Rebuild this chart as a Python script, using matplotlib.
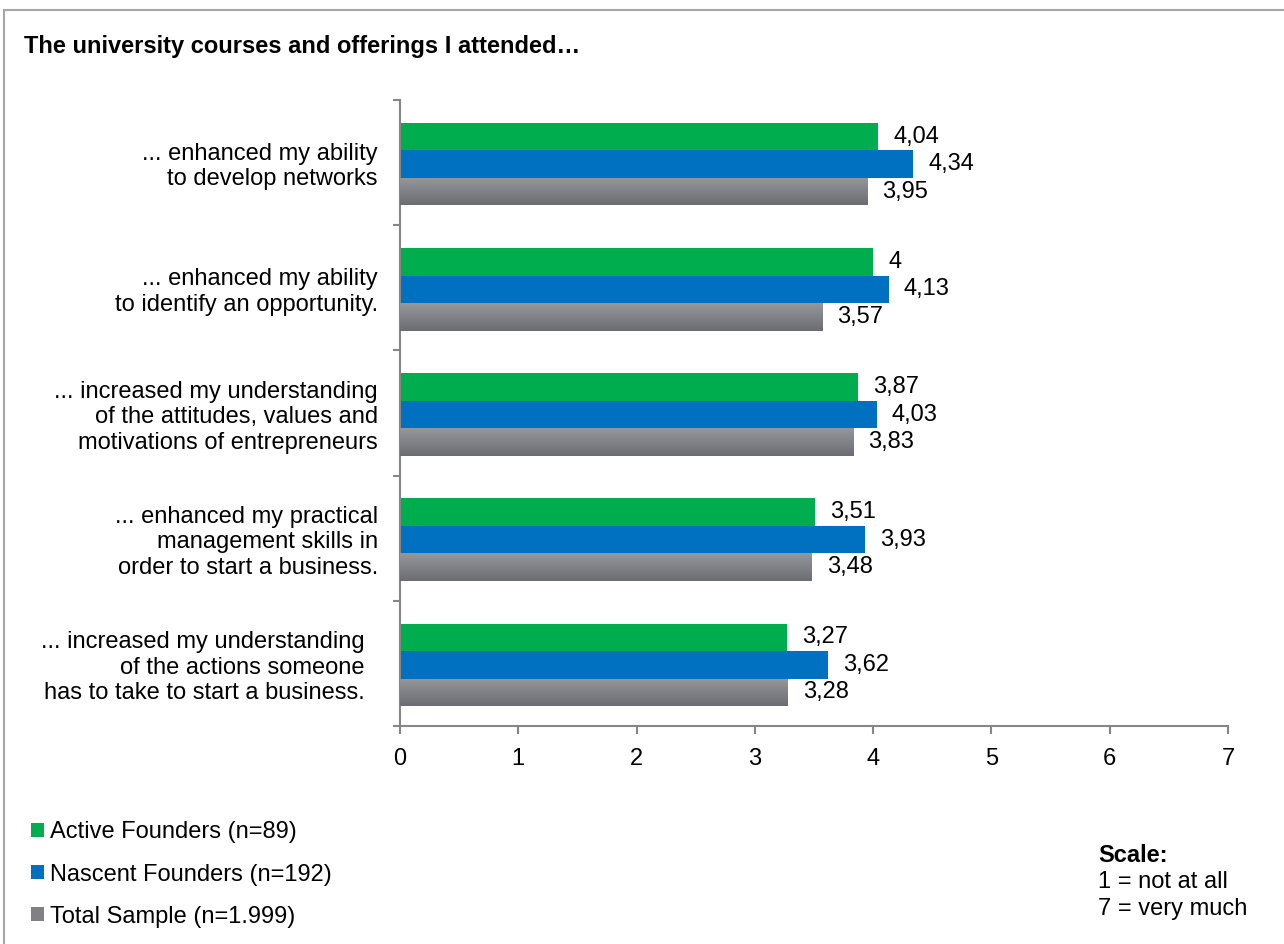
import numpy as np
import matplotlib.pyplot as plt
from matplotlib.lines import Line2D
from matplotlib.colors import LinearSegmentedColormap

plt.rcParams['font.family'] = ['Liberation Sans', 'DejaVu Sans']

# survey statements (top to bottom)
statements = [
    "... enhanced my ability\nto develop networks",
    "... enhanced my ability\nto identify an opportunity.",
    "... increased my understanding\nof the attitudes, values and\nmotivations of entrepreneurs",
    "... enhanced my practical\nmanagement skills in\norder to start a business.",
    "... increased my understanding  \nof the actions someone  \nhas to take to start a business.  ",
]

# mean ratings per group
active = [4.04, 4.00, 3.87, 3.51, 3.27]
nascent = [4.34, 4.13, 4.03, 3.93, 3.62]
total = [3.95, 3.57, 3.83, 3.48, 3.28]

series = ["Active Founders (n=89)", "Nascent Founders (n=192)", "Total Sample (n=1.999)"]
colors = ["#00AD4E", "#0070C0", "#808185"]

fig = plt.figure(figsize=(12.84, 9.44), dpi=100)
ax = fig.add_axes([400/1284, 1 - 726/944, 828/1284, 626/944])

y = np.arange(len(statements))
h = 0.22
conts = []
for i, (vals, c, lab) in enumerate(zip([active, nascent, total], colors, series)):
    bars = ax.barh(y + (i - 1) * h + 0.012, vals, height=h, color=c, label=lab, zorder=2)
    conts.append(bars)
    for b, v in zip(bars, vals):
        ax.annotate(f"{v:g}".replace('.', ','), (v, b.get_y() + b.get_height()/2),
                    xytext=(11, 0), textcoords='offset points',
                    ha='left', va='center', fontsize=17)

# grey gradient on total sample bars
grad = np.linspace(0, 1, 50).reshape(-1, 1)
gcmap = LinearSegmentedColormap.from_list('g', ["#96979B", "#6C6D72"])
for b in conts[2]:
    x0, y0, w, hh = b.get_x(), b.get_y(), b.get_width(), b.get_height()
    im = ax.imshow(grad, cmap=gcmap, aspect='auto', extent=(x0, x0 + w, y0 + hh, y0),
                   origin='upper', zorder=3)
    im.set_clip_path(b)

ax.set_xlim(0, 7)
ax.set_ylim(4.5, -0.5)
ax.set_xticks(range(8))
ax.set_yticks(y)
ax.set_yticklabels(statements, fontsize=17, linespacing=1.2)
ax.set_yticks(np.arange(-0.5, 5), minor=True)
ax.tick_params(axis='y', which='major', length=0, pad=16)
ax.tick_params(axis='y', which='minor', length=5, color='#868686', width=1.5)
ax.tick_params(axis='x', length=6, color='#868686', width=1.5, labelsize=17, pad=10)
for s in ['top', 'right']:
    ax.spines[s].set_visible(False)
for s in ['left', 'bottom']:
    ax.spines[s].set_color('#868686')
    ax.spines[s].set_linewidth(1.5)

fig.text(24/1284, 1 - 47/944, "The university courses and offerings I attended…",
         fontsize=17, fontweight='bold', va='center')

fig.legend(handles=conts, loc='upper left', bbox_to_anchor=(22/1284, 1 - 812/944),
           frameon=False, fontsize=17, handlelength=0.55, handleheight=0.55,
           handletextpad=0.25, labelspacing=0.85, borderaxespad=0)

fig.text(1098/1284, 1 - 856/944, "Scale:", fontsize=17, fontweight='bold', va='center')
fig.text(1098/1284, 1 - 882/944, "1 = not at all", fontsize=17, va='center')
fig.text(1098/1284, 1 - 909/944, "7 = very much", fontsize=17, va='center')

# outer frame
fig.add_artist(Line2D([4/1284, 1], [1 - 10/944, 1 - 10/944], color='#A6A6A6', lw=1.5))
fig.add_artist(Line2D([4/1284, 4/1284], [0, 1 - 10/944], color='#A6A6A6', lw=1.5))

fig.savefig('out.png', dpi=100)
